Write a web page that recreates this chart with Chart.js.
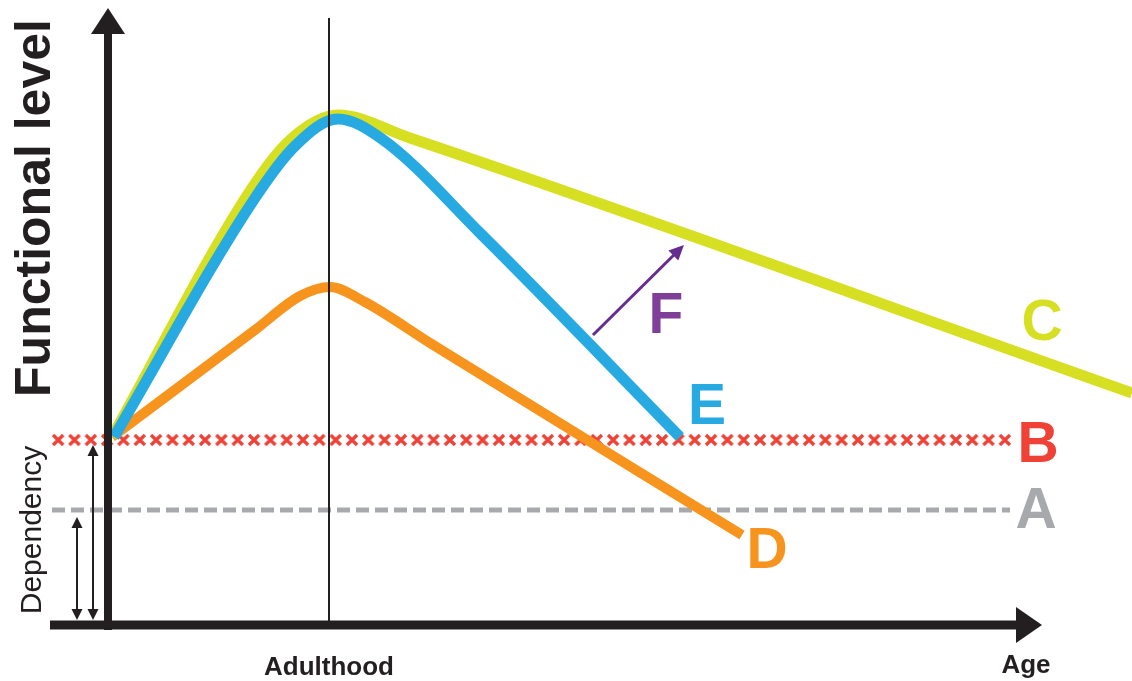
<!DOCTYPE html>
<html>
<head>
<meta charset="utf-8">
<script src="https://cdn.jsdelivr.net/npm/chart.js@4.4.1/dist/chart.umd.min.js"></script>
<style>
  html, body { margin: 0; padding: 0; background: #fff; }
  canvas { display: block; }
</style>
</head>
<body>
<canvas id="chart" width="1132" height="681"></canvas>
<script>
// values: x = age, y = functional level (arbitrary units)
var ageC   = [0.4, 14.2, 18.2, 23.0, 30.2, 102.4];
var levelC = [18.8, 43.4, 48.5, 51.0, 48.7, 23.2];

var ageE   = [0.6, 14.7, 18.7, 23.0, 27.4, 37.2, 57.2];
var levelE = [18.8, 42.7, 47.9, 50.6, 48.6, 39.2, 18.8];

var ageD   = [0.4, 14.7, 19.2, 22.2, 25.7, 32.2, 63.4];
var levelD = [18.8, 29.5, 32.9, 33.8, 32.3, 28.2, 9.0];

var levelA = 11.5;           // dependency threshold A
var levelB = 18.5;           // dependency threshold B
var ageA = [-5.6, 90.2];
var ageB = [-5.8, 90.5];
var adulthood = 22.1;

var arrowFage = [48.5, 57.6];
var arrowFlevel = [29.0, 38.0];

var black = '#231f20';

function pts(xs, ys) {
  return xs.map(function (x, i) { return { x: x, y: ys[i] }; });
}

// red crosses along the B line
function crossPattern(ctx) {
  var chart = ctx.chart;
  var xs = chart.scales.x, ys = chart.scales.y;
  if (!xs || !ys) return '#ef4136';
  var tile = document.createElement('canvas');
  tile.width = 16; tile.height = 16;
  var t = tile.getContext('2d');
  t.strokeStyle = '#ef4136';
  t.lineWidth = 3.2;
  t.beginPath();
  t.moveTo(3, 3); t.lineTo(13, 13);
  t.moveTo(13, 3); t.lineTo(3, 13);
  t.stroke();
  var pat = chart.ctx.createPattern(tile, 'repeat');
  var x0 = xs.getPixelForValue(ageB[0]);
  var x1 = xs.getPixelForValue(ageB[1]);
  var n = Math.round((x1 - x0) / 16.3);
  var sx = (x1 - x0) / n / 16;
  pat.setTransform(new DOMMatrix().translate(x0, ys.getPixelForValue(levelB) - 8).scale(sx, 1));
  return pat;
}

function arrowHead(ctx, x, y, angle, len, half) {
  ctx.save();
  ctx.translate(x, y);
  ctx.rotate(angle);
  ctx.beginPath();
  ctx.moveTo(0, 0);
  ctx.lineTo(-len, -half);
  ctx.lineTo(-len, half);
  ctx.closePath();
  ctx.fill();
  ctx.restore();
}

var decor = {
  id: 'decor',
  beforeDraw: function (chart) {
    var c = chart.ctx;
    c.save();
    c.fillStyle = '#fff';
    c.fillRect(0, 0, chart.width, chart.height);
    c.restore();
  },
  afterDatasetsDraw: function (chart) {
    var c = chart.ctx;
    var xs = chart.scales.x, ys = chart.scales.y;
    var ox = xs.getPixelForValue(0), oy = ys.getPixelForValue(0);
    c.save();
    c.fillStyle = black;
    c.strokeStyle = black;

    // adulthood marker
    var ax = xs.getPixelForValue(adulthood);
    c.lineWidth = 2;
    c.beginPath(); c.moveTo(ax, 18); c.lineTo(ax, oy); c.stroke();

    // axes
    c.lineWidth = 8;
    c.beginPath(); c.moveTo(ox, oy + 5); c.lineTo(ox, 32); c.stroke();
    arrowHead(c, ox, 8, -Math.PI / 2, 26, 17);
    c.lineWidth = 9;
    c.beginPath(); c.moveTo(50, oy); c.lineTo(1018, oy); c.stroke();
    arrowHead(c, 1042, oy, 0, 26, 18);

    // dependency arrows
    c.lineWidth = 2;
    var pb = ys.getPixelForValue(levelB), pa = ys.getPixelForValue(levelA);
    [[93, pb + 5], [77, pa + 7]].forEach(function (a) {
      c.beginPath(); c.moveTo(a[0], a[1] + 8); c.lineTo(a[0], oy - 13); c.stroke();
      arrowHead(c, a[0], a[1], -Math.PI / 2, 11, 5.5);
      arrowHead(c, a[0], oy - 5, Math.PI / 2, 11, 5.5);
    });

    // F arrow
    var fx0 = xs.getPixelForValue(arrowFage[0]), fy0 = ys.getPixelForValue(arrowFlevel[0]);
    var fx1 = xs.getPixelForValue(arrowFage[1]), fy1 = ys.getPixelForValue(arrowFlevel[1]);
    var ang = Math.atan2(fy1 - fy0, fx1 - fx0);
    c.strokeStyle = '#662d91';
    c.fillStyle = '#662d91';
    c.lineWidth = 3;
    c.beginPath(); c.moveTo(fx0, fy0);
    c.lineTo(fx1 - 10 * Math.cos(ang), fy1 - 10 * Math.sin(ang)); c.stroke();
    arrowHead(c, fx1, fy1, ang, 15, 7);

    // axis titles
    c.fillStyle = black;
    c.textAlign = 'center';
    c.textBaseline = 'alphabetic';
    c.save();
    c.translate(50, 208);
    c.rotate(-Math.PI / 2);
    c.font = 'bold 50px "Liberation Sans", Arial, sans-serif';
    c.fillText('Functional level', 0, 0);
    c.restore();
    c.save();
    c.translate(41, 530);
    c.rotate(-Math.PI / 2);
    c.font = '30px "Liberation Sans", Arial, sans-serif';
    c.fillText('Dependency', 0, 0);
    c.restore();
    c.font = 'bold 26px "Liberation Sans", Arial, sans-serif';
    c.fillText('Adulthood', ax, 675);
    c.fillText('Age', 1026, 673);

    // curve letters
    c.font = 'bold 57px "Liberation Sans", Arial, sans-serif';
    var letters = [
      ['C', '#d7df23', 1042, 340],
      ['E', '#27aae1', 707, 424],
      ['B', '#ef4136', 1038, 462],
      ['A', '#a7a9ac', 1036, 528],
      ['D', '#f7941d', 767, 568],
      ['F', '#7f3f98', 666, 333]
    ];
    letters.forEach(function (l) {
      c.fillStyle = l[1];
      c.fillText(l[0], l[2], l[3]);
    });
    c.restore();
  }
};

var curve = { cubicInterpolationMode: 'monotone', pointRadius: 0, fill: false, borderCapStyle: 'butt' };

new Chart(document.getElementById('chart'), {
  type: 'line',
  data: {
    datasets: [
      Object.assign({ label: 'E', data: pts(ageE, levelE), borderColor: '#27aae1', borderWidth: 11 }, curve),
      Object.assign({ label: 'C', data: pts(ageC, levelC), borderColor: '#d7df23', borderWidth: 11 }, curve),
      Object.assign({ label: 'D', data: pts(ageD, levelD), borderColor: '#f7941d', borderWidth: 10 }, curve),
      { label: 'A', data: pts(ageA, [levelA, levelA]), borderColor: '#a7a9ac', borderWidth: 5,
        borderDash: [13, 6], pointRadius: 0, fill: false },
      { label: 'B', data: pts(ageB, [levelB, levelB]), borderColor: crossPattern, borderWidth: 16,
        pointRadius: 0, fill: false }
    ]
  },
  options: {
    responsive: false,
    devicePixelRatio: 1,
    animation: false,
    layout: { padding: 0 },
    plugins: { legend: { display: false }, tooltip: { enabled: false } },
    scales: {
      x: { type: 'linear', min: -10.8, max: 102.4, display: false },
      y: { type: 'linear', min: -5.6, max: 62.5, display: false }
    }
  },
  plugins: [decor]
});
</script>
</body>
</html>
